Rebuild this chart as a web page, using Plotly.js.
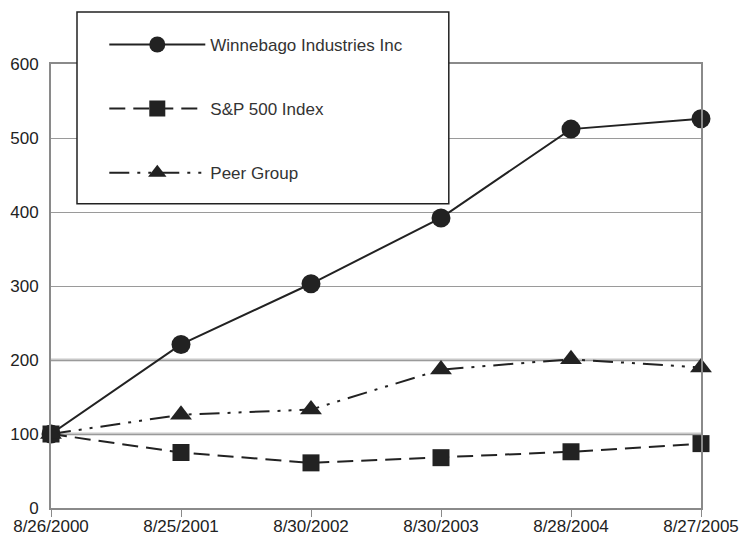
<!DOCTYPE html>
<html>
<head>
<meta charset="utf-8">
<script src="https://cdn.plot.ly/plotly-3.0.1.min.js"></script>
<style>html,body{margin:0;padding:0;background:#fff;}</style>
</head>
<body>
<div id="chart" style="width:740px;height:540px;"></div>
<script>
var dates = ["8/26/2000", "8/25/2001", "8/30/2002", "8/30/2003", "8/28/2004", "8/27/2005"];
var winnebago = [100, 221, 303, 392, 512, 526];
var sp500 = [100, 75, 61, 68, 76, 87];
var peerGroup = [100, 126, 133, 187, 201, 190];
var yTicks = [0, 100, 200, 300, 400, 500, 600];

var ink = "#222222";
var traces = [
  {x: dates, y: winnebago, name: "Winnebago Industries Inc", type: "scatter", mode: "lines+markers",
   legendgroup: "a", cliponaxis: false,
   line: {color: ink, width: 2}, marker: {symbol: "circle", size: 19, color: ink}},
  {x: dates, y: sp500, name: "S&P 500 Index", type: "scatter", mode: "lines+markers",
   legendgroup: "b", cliponaxis: false,
   line: {color: ink, width: 2, dash: "16px,8px"}, marker: {symbol: "square", size: 17, color: ink}},
  {x: dates, y: peerGroup, name: "Peer Group", type: "scatter", mode: "lines+markers",
   legendgroup: "c", cliponaxis: false,
   line: {color: ink, width: 2, dash: "20px,8px,3px,8px,3px,8px"}, marker: {symbol: "triangle-up", size: 19, color: ink}}
];

var layout = {
  width: 740, height: 540,
  margin: {l: 51, r: 39, t: 64, b: 32},
  paper_bgcolor: "#ffffff", plot_bgcolor: "#ffffff",
  font: {family: "Liberation Sans, Arial, sans-serif", size: 17, color: "#222"},
  showlegend: true,
  legend: {
    x: 0.082, y: 1.0835, xanchor: "left", yanchor: "top",
    bgcolor: "rgba(0,0,0,0)", borderwidth: 0,
    traceorder: "grouped", tracegroupgap: 39, itemwidth: 96,
    font: {size: 17, color: "#333"}
  },
  xaxis: {
    type: "category", range: [0, 5], showgrid: false, zeroline: false,
    showline: true, mirror: true, linecolor: "#8a8a8a", linewidth: 2,
    ticks: "outside", ticklen: 7, tickcolor: "#8a8a8a", tickwidth: 1,
    ticklabelstandoff: -5,
    tickfont: {size: 17, color: "#222"}
  },
  yaxis: {
    range: [0, 600], tickvals: yTicks, ticktext: yTicks.map(String),
    showgrid: true, gridcolor: "#9a9a9a", gridwidth: 1, zeroline: false,
    showline: true, mirror: true, linecolor: "#8a8a8a", linewidth: 2,
    ticks: "", ticklabelstandoff: 7,
    tickfont: {size: 17, color: "#222"}
  },
  shapes: [
    {type: "line", xref: "paper", yref: "y", x0: 0, x1: 1, y0: 100, y1: 100,
     line: {color: "#c8c8c8", width: 3}, layer: "between"},
    {type: "line", xref: "paper", yref: "y", x0: 0, x1: 1, y0: 200, y1: 200,
     line: {color: "#c8c8c8", width: 3}, layer: "between"},
    {type: "rect", xref: "paper", yref: "paper", x0: 0.04, x1: 0.612, y0: 0.685, y1: 1.117,
     fillcolor: "#ffffff", line: {color: "#222", width: 1.5}, layer: "above"}
  ]
};

Plotly.newPlot("chart", traces, layout, {displayModeBar: false, staticPlot: true});
</script>
</body>
</html>
